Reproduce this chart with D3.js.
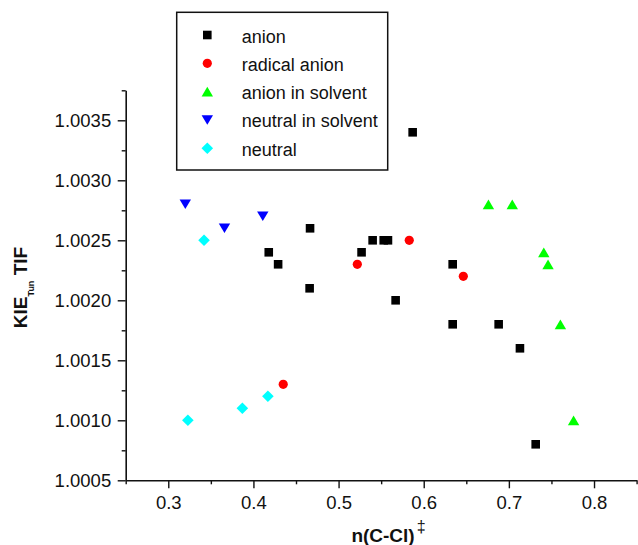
<!DOCTYPE html>
<html>
<head>
<meta charset="utf-8">
<script src="https://cdn.jsdelivr.net/npm/d3@7"></script>
<style>
  html, body { margin: 0; padding: 0; background: #fff; }
  svg { display: block; font-family: "Liberation Sans", Arial, Helvetica, sans-serif; }
</style>
</head>
<body>
<svg id="chart" width="638" height="545"></svg>
<script>
// Tunnelling KIE vs. bond order n(C-Cl)‡ for each model type
const anionX = [0.587, 0.4665, 0.418, 0.429, 0.466, 0.527, 0.540, 0.553, 0.558, 0.567, 0.634, 0.634, 0.688, 0.713, 0.7315];
const anionY = [1.0034, 1.0026, 1.0024, 1.0023, 1.0021, 1.0024, 1.0025, 1.0025, 1.0025, 1.0020, 1.0023, 1.0018, 1.0018, 1.0016, 1.0008];

const radicalAnionX = [0.522, 0.583, 0.6465, 0.435];
const radicalAnionY = [1.0023, 1.0025, 1.0022, 1.0013];

const anionSolventX = [0.676, 0.704, 0.741, 0.746, 0.7605, 0.776];
const anionSolventY = [1.0028, 1.0028, 1.0024, 1.0023, 1.0018, 1.0010];

const neutralSolventX = [0.320, 0.366, 0.411];
const neutralSolventY = [1.0028, 1.0026, 1.0027];

const neutralX = [0.342, 0.323, 0.387, 0.417];
const neutralY = [1.0025, 1.0010, 1.0011, 1.0012];

const seriesNames = ["anion", "radical anion", "anion in solvent", "neutral in solvent", "neutral"];

const xMajorTicks = [0.3, 0.4, 0.5, 0.6, 0.7, 0.8];
const xMinorTicks = [0.25, 0.35, 0.45, 0.55, 0.65, 0.75, 0.85];
const yMajorTicks = [1.0005, 1.0010, 1.0015, 1.0020, 1.0025, 1.0030, 1.0035];
const yMinorTicks = [1.00075, 1.00125, 1.00175, 1.00225, 1.00275, 1.00325, 1.00375];

// Marker shapes (size = overall width in px, centred on the point)
const squareType = { draw(c, s) { const h = s / 2; c.rect(-h, -h, s, s); } };
const circleType = { draw(c, s) { const r = s / 2; c.moveTo(r, 0); c.arc(0, 0, r, 0, 2 * Math.PI); } };
const triUpType = { draw(c, s) { const w = s / 2, h = s * 0.43; c.moveTo(0, -h); c.lineTo(w, h); c.lineTo(-w, h); c.closePath(); } };
const triDownType = { draw(c, s) { const w = s / 2, h = s * 0.42; c.moveTo(0, h); c.lineTo(w, -h); c.lineTo(-w, -h); c.closePath(); } };
const diamondType = { draw(c, s) { const h = s / 2; c.moveTo(0, -h); c.lineTo(h, 0); c.lineTo(0, h); c.lineTo(-h, 0); c.closePath(); } };

const series = [
  { name: seriesNames[0], xs: anionX, ys: anionY, type: squareType, size: 8.6, color: "#000000" },
  { name: seriesNames[1], xs: radicalAnionX, ys: radicalAnionY, type: circleType, size: 9.2, color: "#ff0000" },
  { name: seriesNames[2], xs: anionSolventX, ys: anionSolventY, type: triUpType, size: 11.4, color: "#00ff00" },
  { name: seriesNames[3], xs: neutralSolventX, ys: neutralSolventY, type: triDownType, size: 11.4, color: "#0000ff" },
  { name: seriesNames[4], xs: neutralX, ys: neutralY, type: diamondType, size: 11.6, color: "#00ffff" }
];

const svg = d3.select("#chart");
const ink = "#111";

const x = d3.scaleLinear().domain([0.25, 0.85]).range([125.7, 636.6]);
const y = d3.scaleLinear().domain([1.0005, 1.00375]).range([480.3, 90.3]);

// Minor ticks
svg.append("g")
  .attr("transform", `translate(0,${y(1.0005)})`)
  .call(d3.axisBottom(x).tickValues(xMinorTicks).tickSize(4).tickSizeOuter(0).tickFormat(""))
  .call(g => g.select(".domain").remove())
  .call(g => g.selectAll("line").attr("stroke", ink).attr("stroke-width", 1.4));
svg.append("g")
  .attr("transform", `translate(${x(0.25)},0)`)
  .call(d3.axisLeft(y).tickValues(yMinorTicks).tickSize(4).tickSizeOuter(0).tickFormat(""))
  .call(g => g.select(".domain").remove())
  .call(g => g.selectAll("line").attr("stroke", ink).attr("stroke-width", 1.4));

// Major axes
const xAxis = svg.append("g")
  .attr("transform", `translate(0,${y(1.0005)})`)
  .call(d3.axisBottom(x).tickValues(xMajorTicks).tickSize(8).tickSizeOuter(0).tickPadding(8).tickFormat(d3.format(".1f")));
const yAxis = svg.append("g")
  .attr("transform", `translate(${x(0.25)},0)`)
  .call(d3.axisLeft(y).tickValues(yMajorTicks).tickSize(8).tickSizeOuter(0).tickPadding(6.5).tickFormat(d3.format(".4f")));

[xAxis, yAxis].forEach(g => {
  g.select(".domain").attr("stroke", ink).attr("stroke-width", 1.6);
  g.selectAll(".tick line").attr("stroke", ink).attr("stroke-width", 1.4);
  g.selectAll(".tick text").attr("fill", ink).style("font-size", "18.5px").style("font-family", "Liberation Sans, Arial, sans-serif");
});

// Axis titles
const xTitle = svg.append("text")
  .attr("x", 388.5).attr("y", 541.7)
  .attr("text-anchor", "middle")
  .attr("fill", ink)
  .style("font-size", "19px").style("font-weight", "bold");
xTitle.append("tspan").text("n(C-Cl)");
xTitle.append("tspan").attr("dx", 2).attr("dy", -10).style("font-size", "16px").style("font-weight", "normal").text("\u2021");

const yTitle = svg.append("text")
  .attr("transform", "translate(27.3,287.5) rotate(-90)")
  .attr("text-anchor", "middle")
  .attr("fill", ink)
  .style("font-size", "19px").style("font-weight", "bold");
yTitle.append("tspan").text("KIE");
yTitle.append("tspan").attr("dy", 7).style("font-size", "9px").text("Tun");
yTitle.append("tspan").attr("dy", -7).text("\u00a0TIF");

// Data points
series.forEach(s => {
  svg.append("g").selectAll("path")
    .data(s.xs.map((v, i) => [v, s.ys[i]]))
    .join("path")
    .attr("transform", d => `translate(${x(d[0])},${y(d[1])})`)
    .attr("d", d3.symbol().type(s.type).size(s.size))
    .attr("fill", s.color);
});

// Legend
const legend = svg.append("g");
legend.append("rect")
  .attr("x", 176.7).attr("y", 12.3).attr("width", 211).attr("height", 157.7)
  .attr("fill", "#fff").attr("stroke", ink).attr("stroke-width", 1.5);
const rowY = d3.scalePoint().domain(seriesNames).range([35, 148.3]);
series.forEach(s => {
  legend.append("path")
    .attr("transform", `translate(207.3,${rowY(s.name)})`)
    .attr("d", d3.symbol().type(s.type).size(s.size))
    .attr("fill", s.color);
  legend.append("text")
    .attr("x", 241.7).attr("y", rowY(s.name) + 7.5)
    .attr("fill", ink)
    .style("font-size", "18px")
    .text(s.name);
});
</script>
</body>
</html>
